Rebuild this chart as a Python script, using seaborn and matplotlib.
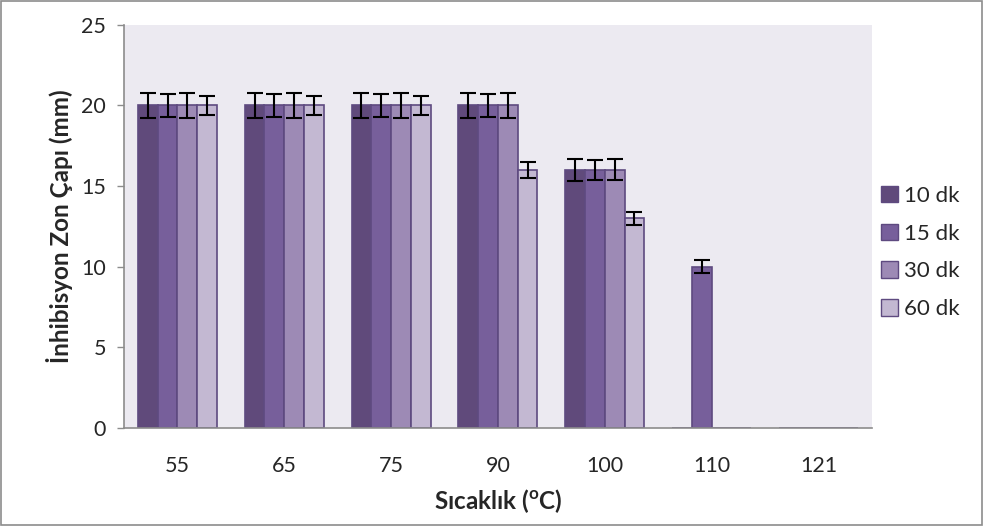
import matplotlib
matplotlib.use('Agg')
import matplotlib.pyplot as plt
import matplotlib.patches as mpatches
import seaborn as sns
import pandas as pd
import numpy as np

# ── Data ─────────────────────────────────────────────────────────────────────
temps = ["55", "65", "75", "90", "100", "110", "121"]
times = ["10 dk", "15 dk", "30 dk", "60 dk"]

vals_10 = [20, 20, 20, 20, 16, 0, 0]
vals_15 = [20, 20, 20, 20, 16, 10, 0]
vals_30 = [20, 20, 20, 20, 16, 0, 0]
vals_60 = [20, 20, 20, 16, 13, 0, 0]

err_10 = [0.8, 0.8, 0.8, 0.8, 0.7, 0, 0]
err_15 = [0.7, 0.7, 0.7, 0.7, 0.6, 0.4, 0]
err_30 = [0.8, 0.8, 0.8, 0.8, 0.65, 0, 0]
err_60 = [0.6, 0.6, 0.6, 0.5, 0.4, 0, 0]

colors = ["#604A7B", "#775F9B", "#9D8AB5", "#C3B8D2"]

rows = []
for t, vs in zip(times, [vals_10, vals_15, vals_30, vals_60]):
    for c, v in zip(temps, vs):
        rows.append({"temp": c, "time": t, "val": v})
df = pd.DataFrame(rows)

# ── Style ────────────────────────────────────────────────────────────────────
sns.set_style("white")
plt.rcParams["font.family"] = ["Lato", "DejaVu Sans"]
plt.rcParams["mathtext.fontset"] = "custom"
plt.rcParams["mathtext.bf"] = "Lato:bold"
plt.rcParams["mathtext.rm"] = "Lato"

fig = plt.figure(figsize=(9.84, 5.26), dpi=100)
ax = fig.add_axes([0.126, 0.186, 0.760, 0.767])
ax.set_facecolor("#ECEAF1")

sns.barplot(data=df, x="temp", y="val", hue="time", order=temps,
            hue_order=times, palette=colors, width=0.74,
            edgecolor="#5E4A80", linewidth=1.2, saturation=1,
            errorbar=None, legend=False, ax=ax)

# error bars on each bar, positions taken from the drawn bars
for cont, errs in zip(ax.containers, [err_10, err_15, err_30, err_60]):
    for bar, e in zip(cont, errs):
        h = bar.get_height()
        if h <= 0:
            continue
        ax.errorbar(bar.get_x() + bar.get_width() / 2, h, yerr=e,
                    fmt="none", ecolor="black", elinewidth=1.5,
                    capsize=5.5, capthick=1.5)

ax.set_ylim(0, 25)
ax.set_yticks([0, 5, 10, 15, 20, 25])
ax.set_xlim(-0.5, len(temps) - 0.5)

for s in ["top", "right"]:
    ax.spines[s].set_visible(False)
for s in ["left", "bottom"]:
    ax.spines[s].set_color("#8C8C8C")
    ax.spines[s].set_linewidth(1.2)

ax.tick_params(axis="y", length=5, color="#8C8C8C", width=1, labelsize=15.5,
               pad=8, direction="out", left=True)
ax.tick_params(axis="x", length=0, labelsize=15.5, pad=20)

ax.set_ylabel("İnhibisyon Zon Çapı (mm)", fontsize=17.5, fontweight="bold",
              labelpad=6)
ax.set_xlabel(r"Sıcaklık ($\mathbf{^{o}}$C)", fontsize=17.5,
              fontweight="bold", labelpad=8)

handles = [mpatches.Patch(facecolor=c, edgecolor="#5E4A80", label=t)
           for c, t in zip(colors, times)]
fig.legend(handles=handles, loc="center left", bbox_to_anchor=(0.875, 0.52),
           frameon=False, fontsize=16, handlelength=0.75, handleheight=0.75,
           handletextpad=0.3, labelspacing=0.8)

# outer chart border
fig.add_artist(mpatches.Rectangle((0.001, 0.002), 0.997, 0.996,
                                  transform=fig.transFigure, fill=False,
                                  edgecolor="#8C8C8C", linewidth=1.2))

fig.savefig("out.png", dpi=100, facecolor="white")
